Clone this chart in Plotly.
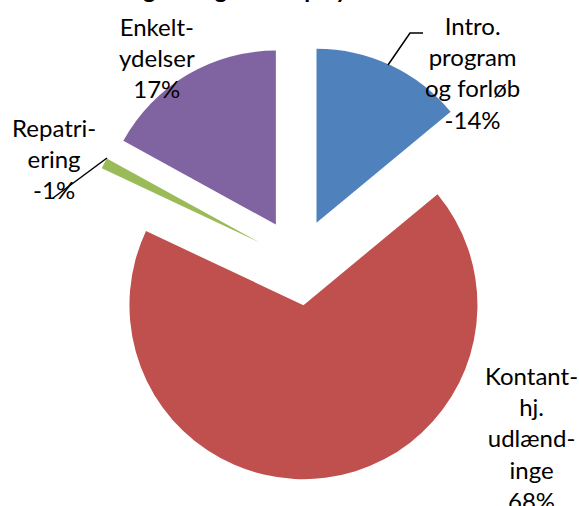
import plotly.graph_objects as go

W, H = 579, 506

# data (Excel-style pie, negative values shown as absolute slices)
labels = ["Intro.<br>program<br>og forløb", "Kontant-<br>hj.<br>udlænd-<br>inge",
          "Repatri-<br>ering", "Enkelt-<br>ydelser"]
values = [-14, 68, -1, 17]
colors = ["#4F81BD", "#C0504D", "#9BBB59", "#8064A2"]

FONT = "Lato, Calibri, Carlito, sans-serif"


def px(x, y):
    """pixel -> paper coords"""
    return x / W, 1 - y / H


fig = go.Figure()
fig.add_pie(
    values=[abs(v) for v in values],
    labels=[l.replace("<br>", " ") for l in labels],
    marker=dict(colors=colors, line=dict(width=0)),
    sort=False, direction="clockwise", rotation=0,
    pull=[0.25] * len(values),
    textinfo="none", showlegend=False,
    domain=dict(x=[80.5 / W, 515.5 / W], y=[1 - 479.5 / H, 1 - 44.5 / H]),
)

# label positions (pixel centres of the text blocks)
label_pos = [(472, 72), (531, 438), (54, 159), (157, 57)]
for lab, v, (lx, ly) in zip(labels, values, label_pos):
    x, y = px(lx, ly)
    fig.add_annotation(x=x, y=y, xref="paper", yref="paper", showarrow=False,
                       text=f"{lab}<br>{v}%", align="center",
                       xanchor="center", yanchor="middle",
                       font=dict(family=FONT, size=24, color="black"))

# leader lines
for pts in ([(388, 65), (410, 33), (423, 33)], [(107, 158), (53, 198)]):
    path = " ".join(("M" if i == 0 else "L") + f" {px(*p)[0]} {px(*p)[1]}"
                    for i, p in enumerate(pts))
    fig.add_shape(type="path", path=path, xref="paper", yref="paper",
                  line=dict(color="black", width=1.5))

# title, mostly cut off by the top edge
tx, ty = px(234, 5)
fig.add_annotation(x=tx, y=ty, xref="paper", yref="paper", showarrow=False,
                   text="<b>Fordeling af udgifterne på ydelser</b>",
                   xanchor="center", yanchor="bottom",
                   font=dict(family=FONT, size=24, color="black"))

fig.update_layout(width=W, height=H, margin=dict(l=0, r=0, t=0, b=0),
                  paper_bgcolor="white", plot_bgcolor="white",
                  font=dict(family=FONT))
fig.write_html("out.html", config={"displayModeBar": False},
               post_script="document.body.style.margin='0';")
